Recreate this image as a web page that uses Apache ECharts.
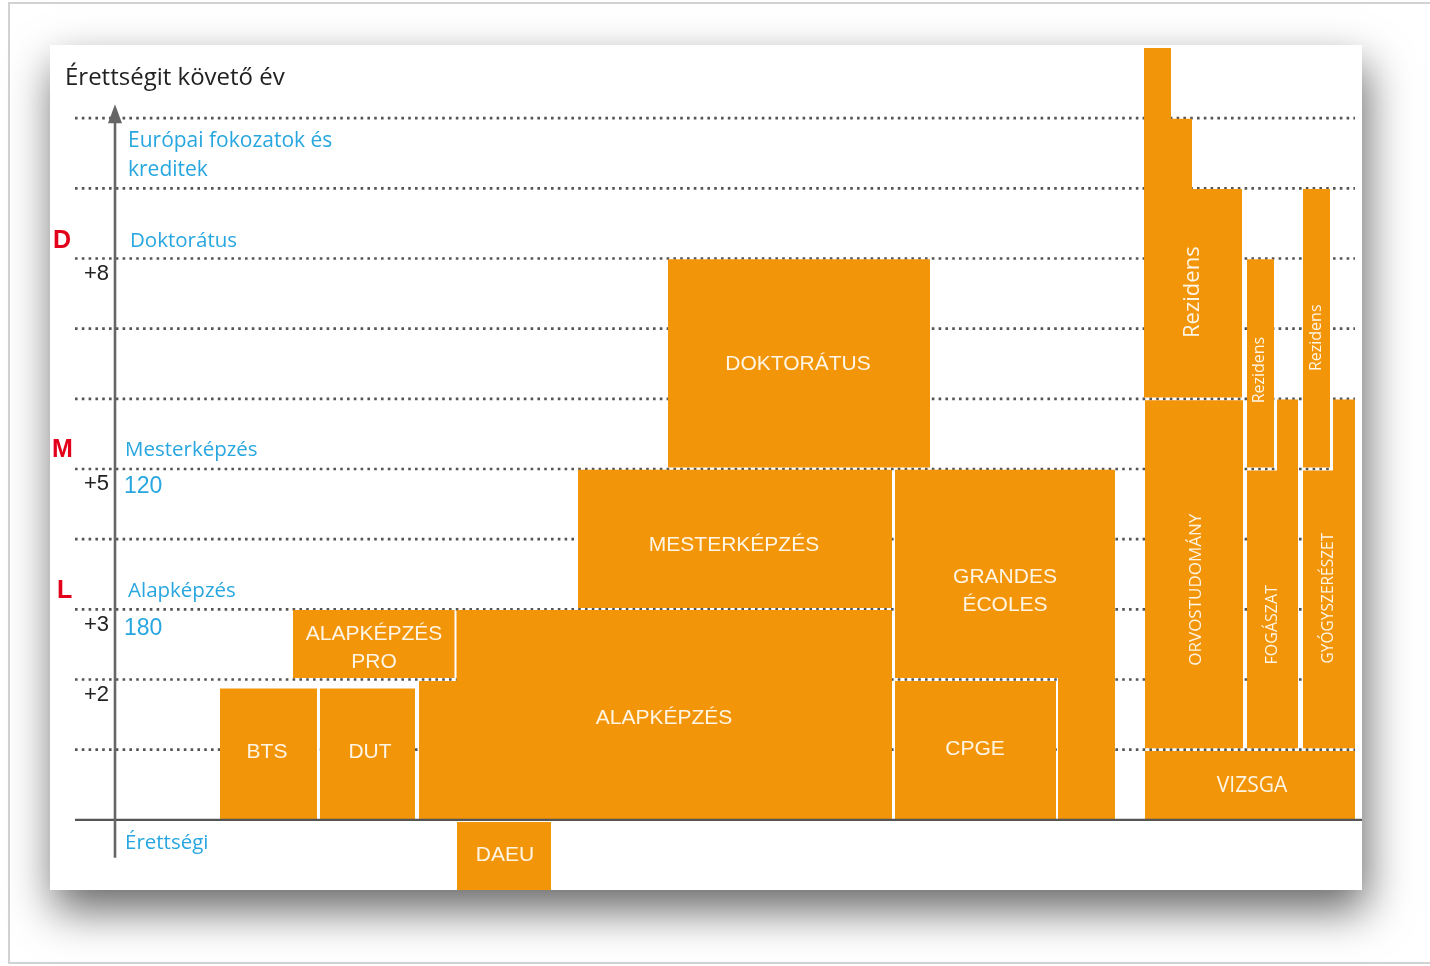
<!DOCTYPE html>
<html><head><meta charset="utf-8">
<script src="https://cdn.jsdelivr.net/npm/echarts@6/dist/echarts.min.js"></script>
<style>html,body{margin:0;padding:0;background:#fff;}#c{width:1430px;height:966px;}</style>
</head><body><div id="c"></div>
<script>
// ---------- DATA ----------
// years after the baccalaureate (érettségi) marked by dotted lines
const yearLines = [1,2,3,4,5,6,7,8,9,10];
const tickYears = [8,5,3,2];
const tickLabels = ['+8','+5','+3','+2'];
const levelLetters = ['D','M','L'];
const levelNames = ['Doktorátus','Mesterképzés','Alapképzés'];
const levelYears = [8.25, 5.27, 3.26];
const creditLabels = ['120','180'];
const creditYears = [4.75, 2.73];

// programme blocks: column span (abstract column units) and year span
const pieceProgram  = ['BTS','DUT','ALAPKÉPZÉS','ALAPKÉPZÉS','ALAPKÉPZÉS PRO','DAEU','MESTERKÉPZÉS','DOKTORÁTUS',
  'GRANDES ÉCOLES','GRANDES ÉCOLES','CPGE','VIZSGA','ORVOSTUDOMÁNY','Rezidens','Rezidens','Rezidens',
  'FOGÁSZAT','FOGÁSZAT','Rezidens (fog)','GYÓGYSZERÉSZET','GYÓGYSZERÉSZET','Rezidens (gyógy)'];
const pieceColStart = [17.0, 27.0, 36.9, 40.65, 24.3, 40.7, 52.8, 61.8,
  84.5, 100.8, 84.5, 109.5, 109.5, 109.4, 112.05, 114.15,
  119.7, 122.7, 119.7, 125.3, 128.3, 125.3];
const pieceColEnd   = [26.7, 36.5, 40.75, 84.2, 40.45, 50.1, 84.2, 88.0,
  106.5, 106.5, 100.6, 130.5, 119.3, 112.1, 114.2, 119.2,
  124.8, 124.8, 122.4, 130.5, 130.5, 128.0];
const pieceYearStart = [0, 0, 0, 0, 2.02, -1, 3.02, 5.02,
  2.02, 0, 0, 0, 1.02, 6.02, 6.02, 6.02,
  1.02, 4.97, 5.02, 1.02, 4.97, 5.02];
const pieceYearEnd   = [1.87, 1.87, 1.98, 2.99, 2.99, -0.03, 4.99, 7.99,
  4.99, 2.03, 1.98, 0.98, 5.98, 11.0, 9.99, 8.99,
  4.98, 5.99, 7.99, 4.98, 5.99, 8.99];

// block labels
const boxLabels = ['BTS','DUT','ALAPKÉPZÉS','ALAPKÉPZÉS\nPRO','DAEU','MESTERKÉPZÉS','DOKTORÁTUS','GRANDES\nÉCOLES',
  'CPGE','VIZSGA','ORVOSTUDOMÁNY','FOGÁSZAT','GYÓGYSZERÉSZET','Rezidens','Rezidens','Rezidens'];
const boxLabelCol  = [21.7, 32.0, 61.4, 32.4, 45.5, 68.4, 74.8, 95.5, 92.5, 120.2, 114.6, 122.2, 127.9, 114.3, 120.9, 126.6];
const boxLabelYear = [0.97, 0.97, 1.45, 2.45, -0.5, 3.92, 6.5, 3.26, 1.01, 0.48, 3.28, 2.78, 3.16, 7.52, 6.41, 6.87];

// ---------- LAYOUT / STYLE ----------
const ORANGE = '#f39508';
const LABEL_FILL = '#fff5e4';
const BLUE = '#27a6df';
const RED = '#e2001a';
const boxLabelRot  = [0,0,0,0,0,0,0,0,0,0,90,90,90,90,90,90];
const boxLabelSize = [21,21,21,21,21,21,21,21,21,21,17,16,15.5,22,16,16];
const boxLabelFont = ['Liberation Sans','Liberation Sans','Liberation Sans','Liberation Sans','Liberation Sans','Liberation Sans',
  'Liberation Sans','Liberation Sans','Liberation Sans','Open Sans','Open Sans','Open Sans','Open Sans','Open Sans','Open Sans','Open Sans'];
const gridX0 = 2.5, gridX1 = 130.5, baseX1 = 131.2;
const axisCol = 6.5, axisBottom = -0.54, axisTop = 10.2;

const chart = echarts.init(document.getElementById('c'));

function textEl(p, text, o) {
  return {type:'text', x:p[0], y:p[1], rotation:(o.rot||0)*Math.PI/180,
    style:{text:text, x:0, y:0, fill:o.fill, fontSize:o.size, fontFamily:o.family||'Open Sans',
      fontWeight:o.weight||'normal', align:o.align||'center', verticalAlign:'middle', lineHeight:o.lh||Math.round(o.size*1.35)}};
}

const option = {
  animation:false,
  graphic:{elements:[
    {type:'rect', z:-20, shape:{x:9, y:3, width:1440, height:960}, style:{fill:'#fff', stroke:'#d2d2d2', lineWidth:2}},
    {type:'rect', z:-19, shape:{x:50, y:45, width:1312, height:845},
      style:{fill:'#fff', shadowBlur:42, shadowOffsetX:4, shadowOffsetY:20, shadowColor:'rgba(0,0,0,0.6)'}}
  ]},
  grid:{left:50, right:68, top:48, bottom:76},
  xAxis:{type:'value', min:0, max:131.2, show:false},
  yAxis:{type:'value', min:-1, max:11, show:false},
  series:[
    { // dotted year lines
      type:'custom', z:1, clip:false,
      data: yearLines.map(y => [y]),
      renderItem:(params, api) => {
        const y = api.value(0);
        const a = api.coord([gridX0, y]), b = api.coord([gridX1, y]);
        return {type:'line', shape:{x1:a[0], y1:a[1], x2:b[0], y2:b[1]},
          style:{stroke:'#555', lineWidth:2.6, lineDash:[2.6,4.2]}};
      }
    },
    { // programme blocks
      type:'custom', z:3, clip:false,
      data: pieceProgram.map((n,i) => [pieceColStart[i], pieceColEnd[i], pieceYearStart[i], pieceYearEnd[i]]),
      renderItem:(params, api) => {
        const tl = api.coord([api.value(0), api.value(3)]);
        const br = api.coord([api.value(1), api.value(2)]);
        return {type:'rect', shape:{x:tl[0], y:tl[1], width:br[0]-tl[0], height:br[1]-tl[1]},
          style:{fill:ORANGE}};
      }
    },
    { // baseline + vertical axis with arrow
      type:'custom', z:5, clip:false,
      data:[[0]],
      renderItem:(params, api) => {
        const b0 = api.coord([gridX0, 0]), b1 = api.coord([baseX1, 0]);
        const a0 = api.coord([axisCol, axisBottom]), a1 = api.coord([axisCol, axisTop]);
        return {type:'group', children:[
          {type:'line', shape:{x1:b0[0], y1:b0[1], x2:b1[0], y2:b1[1]}, style:{stroke:'#555', lineWidth:2.2}},
          {type:'line', shape:{x1:a0[0], y1:a0[1], x2:a1[0], y2:a1[1]+14}, style:{stroke:'#666', lineWidth:2.6}},
          {type:'polygon', shape:{points:[[a1[0], a1[1]], [a1[0]-7, a1[1]+19], [a1[0]+7, a1[1]+19]]}, style:{fill:'#666'}}
        ]};
      }
    },
    { // block labels
      type:'custom', z:6, clip:false,
      data: boxLabels.map((t,i) => [boxLabelCol[i], boxLabelYear[i]]),
      renderItem:(params, api) => {
        const i = params.dataIndex;
        const p = api.coord([api.value(0), api.value(1)]);
        return textEl(p, boxLabels[i], {fill:LABEL_FILL, size:boxLabelSize[i], family:boxLabelFont[i],
          rot:boxLabelRot[i], lh: boxLabelSize[i] + 7});
      }
    },
    { // left annotations
      type:'custom', z:6, clip:false,
      data:[[0]],
      renderItem:(params, api) => {
        const ch = [];
        ch.push(textEl(api.coord([1.5, 10.57]), 'Érettségit követő év', {fill:'#222', size:24, align:'left'}));
        ch.push(textEl(api.coord([7.8, 9.47]), 'Európai fokozatok és\nkreditek', {fill:BLUE, size:21, align:'left', lh:29}));
        const letterCol = [0.3, 0.2, 0.7];
        const nameCol = [8.0, 7.5, 7.8];
        levelLetters.forEach((L,i) => {
          ch.push(textEl(api.coord([letterCol[i], levelYears[i]]), L, {fill:RED, size:25, family:'Liberation Sans', weight:'bold', align:'left'}));
          ch.push(textEl(api.coord([nameCol[i], levelYears[i]]), levelNames[i], {fill:BLUE, size:20.5, align:'left'}));
        });
        tickYears.forEach((y,i) => {
          ch.push(textEl(api.coord([5.9, y - 0.22]), tickLabels[i], {fill:'#222', size:22, family:'Liberation Sans', align:'right'}));
        });
        creditLabels.forEach((c,i) => {
          ch.push(textEl(api.coord([7.4, creditYears[i]]), c, {fill:BLUE, size:23, family:'Liberation Sans', align:'left'}));
        });
        ch.push(textEl(api.coord([7.5, -0.33]), 'Érettségi', {fill:BLUE, size:20.5, align:'left'}));
        return {type:'group', children:ch};
      }
    }
  ]
};
chart.setOption(option);
</script></body></html>
